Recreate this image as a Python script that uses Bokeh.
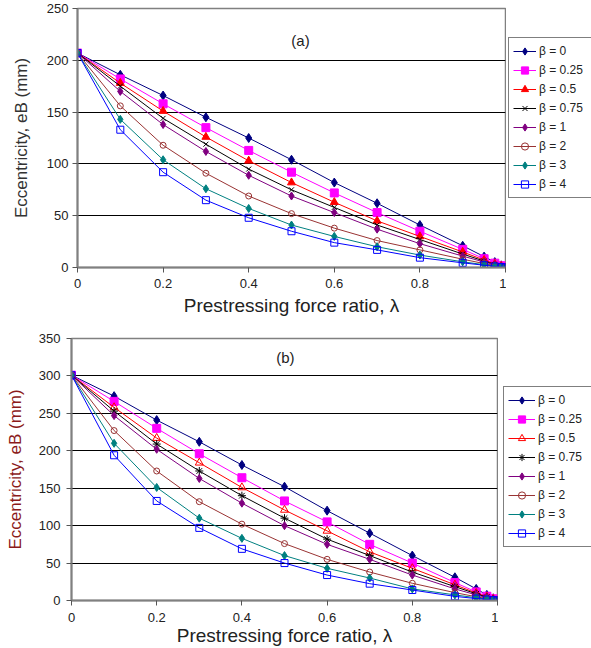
from bokeh.plotting import figure
from bokeh.layouts import column, row
from bokeh.models import Legend, LegendItem, Label, FixedTicker, Range1d
from bokeh.embed import file_html
from bokeh.resources import INLINE

# ---------------- data ----------------
lam = [0, 0.1, 0.2, 0.3, 0.4, 0.5, 0.6, 0.7, 0.8, 0.9, 0.95, 0.975, 0.99, 1.0]
beta_labels = ["β = 0", "β = 0.25", "β = 0.5", "β = 0.75", "β = 1", "β = 2", "β = 3", "β = 4"]

# chart (a)
a_b0 = [207, 186, 166, 145, 125, 104, 82, 62, 41, 21, 10.5, 5.2, 2.1, 0]
a_b025 = [207, 182, 158, 135, 113, 92, 72, 53, 35, 17.5, 8.5, 4.2, 1.7, 0]
a_b05 = [207, 178, 151, 126, 103, 82, 63, 45, 30, 15, 7.2, 3.5, 1.4, 0]
a_b075 = [207, 175, 144, 119, 95, 75, 58, 41, 27, 13, 6.2, 3, 1.2, 0]
a_b1 = [207, 170, 138, 112, 89, 69, 53, 37, 23, 11, 5.3, 2.6, 1, 0]
a_b2 = [207, 156, 118, 91, 69, 52, 38, 26, 17, 8, 3.8, 1.8, 0.7, 0]
a_b3 = [207, 143, 104, 76, 57, 41, 30, 20, 12, 5.5, 2.7, 1.3, 0.5, 0]
a_b4 = [207, 133, 92, 65, 48, 35, 24, 17, 9.5, 4.5, 2.2, 1, 0.4, 0]

# chart (b)
b_b0 = [301, 273, 241, 212, 181, 152, 120, 90, 60, 31, 15.5, 7.5, 3, 0]
b_b025 = [301, 266, 230, 196, 164, 133, 105, 75, 50, 24, 11.5, 5.7, 2.3, 0]
b_b05 = [301, 258, 217, 184, 151, 121, 93, 65, 43, 21, 10, 5, 2, 0]
b_b075 = [301, 253, 209, 173, 140, 110, 82, 60, 38, 18.5, 9, 4.4, 1.8, 0]
b_b1 = [301, 247, 202, 163, 130, 100, 75, 55, 34, 15.5, 7.5, 3.7, 1.5, 0]
b_b2 = [301, 227, 173, 132, 102, 76, 55, 38, 23, 10.5, 5, 2.5, 1, 0]
b_b3 = [301, 210, 151, 110, 83, 60, 43, 30, 15.5, 7.5, 3.6, 1.8, 0.7, 0]
b_b4 = [301, 194, 133, 97, 69, 50, 34, 22.5, 14, 5.5, 2.6, 1.3, 0.5, 0]

x_ticks = [0, 0.2, 0.4, 0.6, 0.8, 1.0]
x_tick_labels = ["0", "0.2", "0.4", "0.6", "0.8", "1"]

colors = ["#000080", "#FF00FF", "#FF0000", "#000000", "#800080", "#993333", "#008080", "#0000FF"]

FONT = "Liberation Sans"


def styles(which):
    tri = dict(marker="triangle", size=8, fill_alpha=1) if which == "a" else dict(marker="triangle", size=8, fill_alpha=0)
    cross = dict(marker="x", size=7) if which == "a" else dict(marker="asterisk", size=8)
    return [
        dict(marker="diamond", size=9, fill_alpha=1),
        dict(marker="square", size=8, fill_alpha=1),
        tri,
        cross,
        dict(marker="diamond", size=8, fill_alpha=1),
        dict(marker="circle", size=6, fill_alpha=0),
        dict(marker="diamond", size=8, fill_alpha=1),
        dict(marker="square", size=7, fill_alpha=0),
    ]


def add_series(p, series, which, visible=True):
    rends = []
    for vals, col, st in zip(series, colors, styles(which)):
        ln = p.line(lam, vals, line_color=col, line_width=1, visible=visible)
        sc = p.scatter(lam, vals, marker=st["marker"], size=st["size"], line_color=col,
                       fill_color=col, fill_alpha=st.get("fill_alpha", 1), line_width=1,
                       visible=visible)
        rends.append((ln, sc))
    return rends


def make_chart(series, which, ymax, width, height, mb_left, mb_top, mb_bottom,
               title_xy, ylabel_color, xl_standoffs, yl_standoffs):
    p = figure(width=width, height=height, output_backend="svg", toolbar_location=None,
               x_range=Range1d(0, 1), y_range=Range1d(0, ymax),
               min_border_left=mb_left, min_border_right=1,
               min_border_top=mb_top, min_border_bottom=mb_bottom)
    p.background_fill_color = "white"
    p.border_fill_color = "white"
    p.outline_line_color = "#808080"
    p.outline_line_width = 1.5

    p.xgrid.visible = False
    p.ygrid.grid_line_color = "#000000"
    p.ygrid.grid_line_width = 1
    p.ygrid.ticker = FixedTicker(ticks=list(range(0, ymax + 1, 50)))

    p.xaxis.ticker = FixedTicker(ticks=x_ticks)
    p.xaxis.major_label_overrides = {t: l for t, l in zip(x_ticks, x_tick_labels)}
    p.yaxis.ticker = FixedTicker(ticks=list(range(0, ymax + 1, 50)))

    for ax in (p.xaxis[0], p.yaxis[0]):
        ax.axis_line_color = "#808080"
        ax.axis_line_width = 2
        ax.major_tick_line_color = "#555555"
        ax.major_tick_in = 0
        ax.major_tick_out = 5
        ax.minor_tick_line_color = None
        ax.major_label_text_font = FONT
        ax.major_label_text_font_size = "13px"
        ax.major_label_text_color = "#222222"
        ax.axis_label_text_font = FONT
        ax.axis_label_text_font_style = "normal"

    p.xaxis.axis_label = "Prestressing force ratio, λ"
    p.xaxis.axis_label_text_font_size = "19px"
    p.xaxis.axis_label_text_color = "#222222"
    p.xaxis.major_label_standoff = xl_standoffs[0]
    p.xaxis.axis_label_standoff = xl_standoffs[1]
    p.yaxis.axis_label = "Eccentricity, eB (mm)"
    p.yaxis.axis_label_text_font_size = "17px"
    p.yaxis.axis_label_text_color = ylabel_color
    p.yaxis.major_label_standoff = yl_standoffs[0]
    p.yaxis.axis_label_standoff = yl_standoffs[1]

    add_series(p, series, which)

    p.add_layout(Label(x=title_xy[0], y=title_xy[1], text="(%s)" % which,
                       text_font=FONT, text_font_size="15px", text_color="#222222",
                       text_align="center", text_baseline="middle"))
    return p


def make_legend_panel(series, which, ymax, width, height, loc, glyph_w, label_w):
    q = figure(width=width, height=height, output_backend="svg", toolbar_location=None,
               x_range=Range1d(0, 1), y_range=Range1d(0, ymax),
               x_axis_location=None, y_axis_location=None, min_border=0)
    q.outline_line_color = None
    q.grid.visible = False
    q.background_fill_color = "white"
    q.border_fill_color = "white"
    rends = add_series(q, series, which, visible=False)
    items = [LegendItem(label=lab, renderers=[ln, sc]) for lab, (ln, sc) in zip(beta_labels, rends)]
    legend = Legend(items=items, location=loc)
    legend.border_line_color = "#000000"
    legend.border_line_width = 1
    legend.background_fill_color = "white"
    legend.background_fill_alpha = 1
    legend.label_text_font = FONT
    legend.label_text_font_size = "12px"
    legend.label_text_color = "#222222"
    legend.glyph_width = glyph_w
    legend.glyph_height = 18
    legend.label_height = 18
    legend.label_width = label_w
    legend.label_standoff = 3
    legend.spacing = 1
    legend.padding = 4
    legend.margin = 0
    legend.inactive_fill_alpha = 0
    q.add_layout(legend)
    return q


series_a = [a_b0, a_b025, a_b05, a_b075, a_b1, a_b2, a_b3, a_b4]
series_b = [b_b0, b_b025, b_b05, b_b075, b_b1, b_b2, b_b3, b_b4]

pa = make_chart(series_a, "a", 250, 506, 318, 77, 8, 51, (0.521, 219), "#333333",
                (6, 4), (4, 13))
la = make_legend_panel(series_a, "a", 250, 85, 318, (2, 69), 23, 48)

pb = make_chart(series_b, "b", 350, 498, 330, 71, 20, 46, (0.502, 324), "#8B1A1A",
                (7, 0), (6, 11))
lb = make_legend_panel(series_b, "b", 350, 93, 330, (5, 53), 27, 49)

layout = column(row(pa, la, spacing=0), row(pb, lb, spacing=0), spacing=0)
open("out.html", "w").write(file_html(layout, INLINE))
